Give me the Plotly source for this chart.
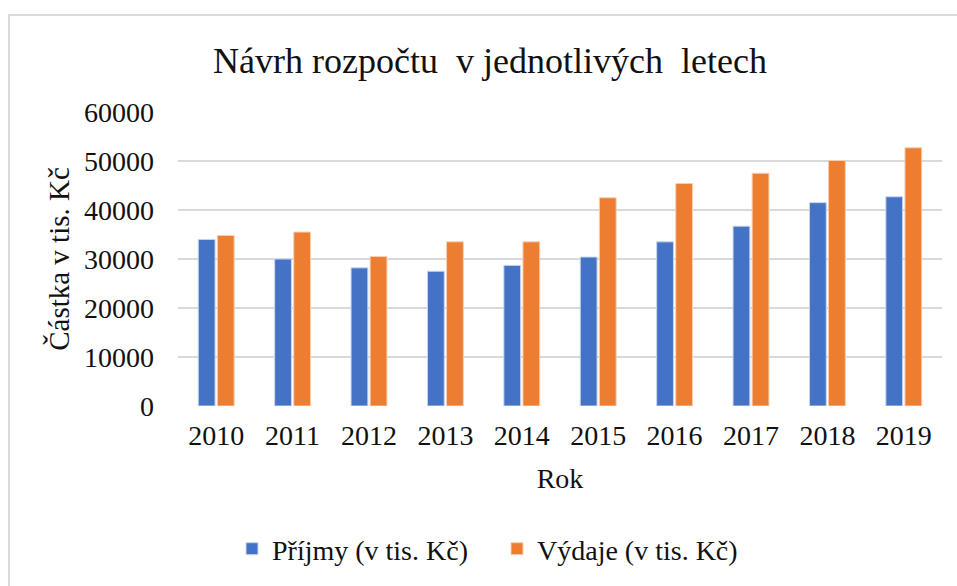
import plotly.graph_objects as go

roky = ["2010", "2011", "2012", "2013", "2014", "2015", "2016", "2017", "2018", "2019"]
prijmy = [34000, 30000, 28200, 27500, 28700, 30400, 33500, 36700, 41500, 42700]
vydaje = [34800, 35500, 30500, 33500, 33500, 42500, 45400, 47500, 50100, 52700]

font = "Liberation Serif"
ink = "#111111"

fig = go.Figure()
fig.add_trace(go.Bar(x=roky, y=prijmy, name="Příjmy (v tis. Kč)",
                     marker=dict(color="#4472C4", line=dict(color="#c9d6ee", width=1))))
fig.add_trace(go.Bar(x=roky, y=vydaje, name="Výdaje (v tis. Kč)",
                     marker=dict(color="#ED7D31", line=dict(color="#f8cfb2", width=1))))

fig.update_layout(
    width=957, height=586,
    margin=dict(l=178, r=15, t=112, b=180),
    paper_bgcolor="white", plot_bgcolor="white",
    font=dict(family=font, size=28, color=ink),
    title=dict(text="Návrh rozpočtu  v jednotlivých  letech",
               font=dict(family=font, size=36, color=ink),
               x=490 / 957, xref="container", xanchor="center",
               y=1 - 60 / 586, yref="container", yanchor="middle"),
    bargap=0.5, bargroupgap=0.12,
    showlegend=True,
    legend=dict(orientation="h", xref="container", yref="container",
                x=497 / 957, xanchor="center", y=1 - 549 / 586, yanchor="middle",
                font=dict(family=font, size=28, color=ink), itemwidth=30,
                entrywidth=220),
)
fig.update_xaxes(title=dict(text="Rok", standoff=18, font=dict(family=font, size=28, color=ink)),
                 showgrid=False, showline=False, ticks="", ticklabelstandoff=10,
                 tickfont=dict(family=font, size=28, color=ink))
fig.update_yaxes(title=dict(text="Částka v tis. Kč", standoff=5, font=dict(family=font, size=29, color=ink)),
                 range=[0, 60000], dtick=10000, tickformat="d",
                 gridcolor="#d9d9d9", gridwidth=1.5, zeroline=False, showline=False,
                 ticklabelstandoff=23, tickfont=dict(family=font, size=28, color=ink))

fig.add_shape(type="rect", xref="paper", yref="paper",
              x0=(9 - 178) / 764, x1=1.2, y0=-1.0, y1=(406 - 15) / 294,
              line=dict(color="#d9d9d9", width=2), fillcolor="rgba(0,0,0,0)", layer="below")

fig.write_html("out.html", config={"displayModeBar": False},
               post_script="document.body.style.margin='0';")
